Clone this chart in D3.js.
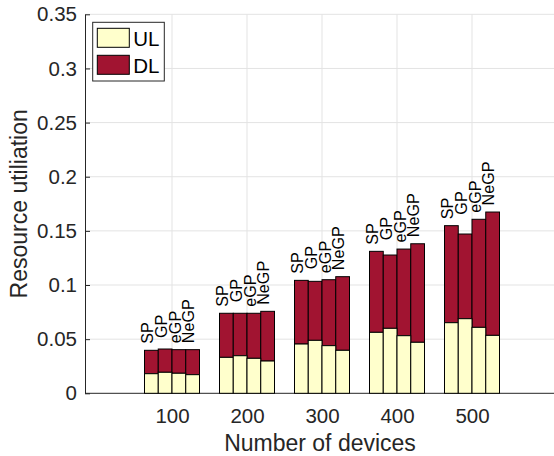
<!DOCTYPE html>
<html>
<head>
<meta charset="utf-8">
<script src="https://cdn.jsdelivr.net/npm/d3@7"></script>
<style>
  html, body { margin: 0; padding: 0; background: #fff; }
  svg { display: block; }
  text { font-family: "Liberation Sans", Arial, Helvetica, sans-serif; fill: #262626; }
</style>
</head>
<body>
<svg id="chart" width="554" height="456"></svg>
<script>
// Number of devices on the x axis
const devices = [100, 200, 300, 400, 500];
// Allocation schemes, one bar per scheme in each group
const schemes = ["SP", "GP", "eGP", "NeGP"];

// Uplink share of the resource utilisation, per scheme and device count
const ulSP   = [0.0181, 0.0332, 0.0455, 0.0563, 0.0652];
const ulGP   = [0.0194, 0.0347, 0.0489, 0.0600, 0.0689];
const ulEGP  = [0.0185, 0.0323, 0.0440, 0.0532, 0.0609];
const ulNEGP = [0.0172, 0.0298, 0.0397, 0.0471, 0.0535];

// Downlink share, stacked on top of the uplink share
const dlSP   = [0.0216, 0.0407, 0.0588, 0.0748, 0.0896];
const dlGP   = [0.0215, 0.0392, 0.0545, 0.0677, 0.0782];
const dlEGP  = [0.0218, 0.0416, 0.0609, 0.0800, 0.0998];
const dlNEGP = [0.0231, 0.0459, 0.0680, 0.0910, 0.1139];

// Y axis ticks and their labels
const yTicks = [0, 0.05, 0.1, 0.15, 0.2, 0.25, 0.3, 0.35];
const yTickLabels = ["0", "0.05", "0.1", "0.15", "0.2", "0.25", "0.3", "0.35"];

const legendItems = ["UL", "DL"];

const ulBySch = [ulSP, ulGP, ulEGP, ulNEGP];
const dlBySch = [dlSP, dlGP, dlEGP, dlNEGP];

const colUL = "#ffffcc";
const colDL = "#a11431";
const axisCol = "#262626";
const gridCol = "#e3e3e3";

const svg = d3.select("#chart");

const plotL = 85, plotR = 560, plotT = 14.3, plotB = 393.3;

const x = d3.scaleLinear().domain([100, 500]).range([172, 472]);
const y = d3.scaleLinear().domain([0, 0.35]).range([plotB, plotT]);

const groupWidth = 55;
const barW = groupWidth / schemes.length;
const band = d3.scaleBand().domain(schemes).range([-groupWidth / 2, groupWidth / 2]).padding(0);

// Grid
const grid = svg.append("g");
grid.selectAll("line.h").data(yTicks.slice(1)).join("line")
  .attr("x1", plotL).attr("x2", plotR)
  .attr("y1", d => y(d)).attr("y2", d => y(d))
  .attr("stroke", gridCol).attr("stroke-width", 1);
grid.selectAll("line.v").data(devices).join("line")
  .attr("x1", d => x(d)).attr("x2", d => x(d))
  .attr("y1", plotT).attr("y2", plotB)
  .attr("stroke", gridCol).attr("stroke-width", 1);

// Axes
const yAxis = d3.axisLeft(y).tickValues(yTicks)
  .tickFormat((d, i) => yTickLabels[i]).tickSize(-5).tickPadding(8).tickSizeOuter(0);
const gy = svg.append("g").attr("transform", `translate(${plotL},0)`).call(yAxis);
gy.select(".domain").attr("stroke", axisCol);
gy.selectAll(".tick line").attr("stroke", axisCol);
gy.selectAll(".tick text").attr("font-size", "20.5px").style("fill", axisCol)
  .attr("font-family", "Liberation Sans, Arial, sans-serif");

const xAxis = d3.axisBottom(x).tickValues(devices).tickFormat(d3.format("d"))
  .tickSize(-5).tickPadding(15.5).tickSizeOuter(0);
const gx = svg.append("g").attr("transform", `translate(0,${plotB})`).call(xAxis);
gx.select(".domain").attr("d", `M${plotL},0H${plotR}`).attr("stroke", axisCol);
gx.selectAll(".tick line").attr("stroke", axisCol);
gx.selectAll(".tick text").attr("font-size", "20.5px").style("fill", axisCol)
  .attr("font-family", "Liberation Sans, Arial, sans-serif");

// Stacked bars
const barsData = [];
devices.forEach((dev, di) => {
  schemes.forEach((s, si) => {
    const ul = ulBySch[si][di], dl = dlBySch[si][di];
    barsData.push({ dev, di, s, si, ul, dl, total: ul + dl });
  });
});

const bars = svg.append("g");
bars.selectAll("rect.dl").data(barsData).join("rect")
  .attr("x", d => x(d.dev) + band(d.s))
  .attr("width", barW)
  .attr("y", d => y(d.total))
  .attr("height", d => y(d.ul) - y(d.total))
  .attr("fill", colDL).attr("stroke", "#000").attr("stroke-width", 1);
bars.selectAll("rect.ul").data(barsData).join("rect")
  .attr("x", d => x(d.dev) + band(d.s))
  .attr("width", barW)
  .attr("y", d => y(d.ul))
  .attr("height", d => y(0) - y(d.ul))
  .attr("fill", colUL).attr("stroke", "#000").attr("stroke-width", 1);

// Scheme labels above each bar; the GP label is lifted to clear the SP label
const labelY = d => {
  if (d.s === "GP") {
    const spTotal = ulSP[d.di] + dlSP[d.di];
    return y(Math.max(spTotal, d.total)) - 11;
  }
  return y(d.total) - 6.5;
};
svg.append("g").selectAll("text").data(barsData).join("text")
  .attr("transform", d => `translate(${x(d.dev) + band(d.s) + barW / 2 + 1.8},${labelY(d)}) rotate(-90)`)
  .attr("text-anchor", "start")
  .attr("font-size", "16.2px")
  .style("fill", "#000")
  .text(d => d.s);

// Axis titles
svg.append("text")
  .attr("x", 320).attr("y", 451)
  .attr("text-anchor", "middle").attr("font-size", "23px")
  .text("Number of devices");
svg.append("text")
  .attr("transform", `translate(27,${(plotT + plotB) / 2}) rotate(-90)`)
  .attr("text-anchor", "middle").attr("font-size", "23px")
  .text("Resource utiliation");

// Legend
const lg = svg.append("g");
lg.append("rect").attr("x", 92.7).attr("y", 22.3).attr("width", 71.6).attr("height", 58.7)
  .attr("fill", "#fff").attr("stroke", axisCol).attr("stroke-width", 1);
const legendColors = [colUL, colDL];
lg.selectAll("rect.item").data(legendItems).join("rect")
  .attr("x", 97.3).attr("y", (d, i) => 28.3 + i * 27)
  .attr("width", 32).attr("height", 19)
  .attr("fill", (d, i) => legendColors[i]).attr("stroke", "#000").attr("stroke-width", 1);
lg.selectAll("text").data(legendItems).join("text")
  .attr("x", 133.3).attr("y", (d, i) => 46.3 + i * 27)
  .attr("font-size", "20.5px").style("fill", "#000")
  .text(d => d);
</script>
</body>
</html>
